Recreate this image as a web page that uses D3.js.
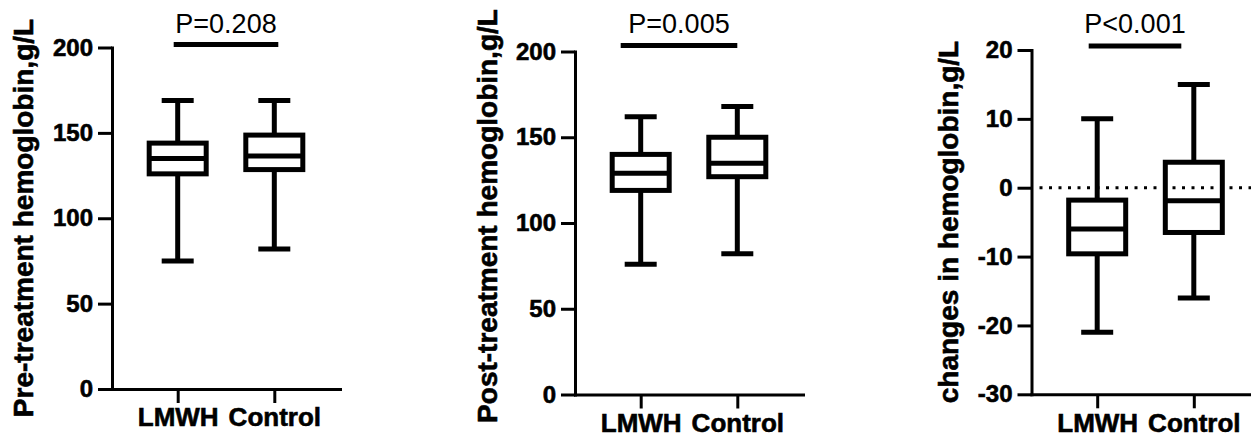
<!DOCTYPE html>
<html>
<head>
<meta charset="utf-8">
<script src="https://cdn.jsdelivr.net/npm/d3@7"></script>
<style>
  html, body { margin: 0; padding: 0; background: #fff; }
  text { font-family: "Liberation Sans", Arial, sans-serif; fill: #000; }
  .axis .domain, .axis .tick line { stroke: #000; stroke-width: 3; }
  .axis .domain { stroke-linecap: square; }
  .axis text, .ytitle { font-weight: bold; stroke: #000; stroke-width: 0.6; }
</style>
</head>
<body>
<div id="chart"></div>
<script>
// data: [min, q1, median, q3, max] per group
const groups = ["LMWH", "Control"];
const preTreatment = [[75, 126, 135, 144, 169], [82, 128.5, 136.5, 148.7, 169]];
const postTreatment = [[76, 119, 129, 140, 162], [82, 127, 134.8, 150, 168]];
const changeHb = [[-21, -9.6, -6, -1.8, 10], [-16, -6.5, -1.9, 3.7, 15]];
const yTicksHb = [0, 50, 100, 150, 200];
const yTicksChange = [-30, -20, -10, 0, 10, 20];
const pValues = ["P=0.208", "P=0.005", "P<0.001"];
const yTitles = ["Pre-treatment hemoglobin,g/L", "Post-treatment hemoglobin,g/L", "changes in hemoglobin,g/L"];

const totalWidth = 1251, totalHeight = 438;
const axisWidth = 228;

// layout of each small panel
const panels = [
  { stats: preTreatment, ticks: yTicksHb, title: yTitles[0], p: pValues[0], left: 112, top: 47.5, bottom: 389, titleX: 33, titleY: 218, sig: [-4, 4], sigY: 44.5, zeroLine: false },
  { stats: postTreatment, ticks: yTicksHb, title: yTitles[1], p: pValues[1], left: 575, top: 51.5, bottom: 394.5, titleX: 497, titleY: 216, sig: [-20, 0], sigY: 45.5, zeroLine: false },
  { stats: changeHb, ticks: yTicksChange, title: yTitles[2], p: pValues[2], left: 1031.5, top: 50, bottom: 394.3, titleX: 958, titleY: 222, sig: [-8.5, -12.5], sigY: 46, zeroLine: true }
];

const svg = d3.select("div#chart").append("svg")
  .attr("width", totalWidth).attr("height", totalHeight)

panels.forEach(pn => {
  const g = svg.append("g").attr("class", "panel")

  const x = d3.scalePoint().domain(groups).range([pn.left, pn.left + axisWidth]).padding(0.68)
  const y = d3.scaleLinear().domain(d3.extent(pn.ticks)).range([pn.bottom, pn.top])

  // zero reference line
  if (pn.zeroLine) {
    g.append("line")
      .attr("x1", pn.left + 8).attr("x2", totalWidth)
      .attr("y1", y(0)).attr("y2", y(0))
      .attr("stroke", "#000").attr("stroke-width", 3)
      .attr("stroke-dasharray", "3 6.5")
  }

  // axes
  const yAxisG = g.append("g").attr("class", "axis")
    .attr("transform", `translate(${pn.left},0)`)
    .call(d3.axisLeft(y).tickValues(pn.ticks).tickFormat(d => String(d))
      .tickSize(14).tickSizeOuter(0).tickPadding(5))
  yAxisG.attr("font-size", null).attr("font-family", null)
  yAxisG.selectAll("text").style("font-size", "24px")

  const xAxisG = g.append("g").attr("class", "axis")
    .attr("transform", `translate(0,${pn.bottom})`)
    .call(d3.axisBottom(x).tickSize(14).tickSizeOuter(0).tickPadding(5))
  xAxisG.attr("font-size", null).attr("font-family", null)
  xAxisG.selectAll("text").style("font-size", "26px")

  // y title
  g.append("text").attr("class", "ytitle")
    .attr("transform", `translate(${pn.titleX},${pn.titleY}) rotate(-90)`)
    .attr("text-anchor", "middle")
    .style("font-size", "28px")
    .text(pn.title)

  // boxes
  const boxW = 57, capW = 32
  const boxes = g.selectAll(".box").data(pn.stats.map((s, i) => ({ group: groups[i], s })))
    .enter().append("g").attr("class", "box")
  boxes.append("line")
    .attr("x1", d => x(d.group)).attr("x2", d => x(d.group))
    .attr("y1", d => y(d.s[0])).attr("y2", d => y(d.s[1]))
    .attr("stroke", "#000").attr("stroke-width", 5)
  boxes.append("line")
    .attr("x1", d => x(d.group)).attr("x2", d => x(d.group))
    .attr("y1", d => y(d.s[3])).attr("y2", d => y(d.s[4]))
    .attr("stroke", "#000").attr("stroke-width", 5)
  ;[0, 4].forEach(k => {
    boxes.append("line")
      .attr("x1", d => x(d.group) - capW / 2).attr("x2", d => x(d.group) + capW / 2)
      .attr("y1", d => y(d.s[k])).attr("y2", d => y(d.s[k]))
      .attr("stroke", "#000").attr("stroke-width", 5)
  })
  boxes.append("rect")
    .attr("x", d => x(d.group) - boxW / 2).attr("width", boxW)
    .attr("y", d => y(d.s[3])).attr("height", d => y(d.s[1]) - y(d.s[3]))
    .attr("fill", "none").attr("stroke", "#000").attr("stroke-width", 5)
  boxes.append("line")
    .attr("x1", d => x(d.group) - boxW / 2).attr("x2", d => x(d.group) + boxW / 2)
    .attr("y1", d => y(d.s[2])).attr("y2", d => y(d.s[2]))
    .attr("stroke", "#000").attr("stroke-width", 5)

  // significance bar
  const sx1 = x(groups[0]) + pn.sig[0], sx2 = x(groups[1]) + pn.sig[1]
  g.append("line")
    .attr("x1", sx1).attr("x2", sx2).attr("y1", pn.sigY).attr("y2", pn.sigY)
    .attr("stroke", "#000").attr("stroke-width", 5)
  g.append("text")
    .attr("x", (sx1 + sx2) / 2).attr("y", 33)
    .attr("text-anchor", "middle")
    .style("font-size", "27px")
    .text(pn.p)
})
</script>
</body>
</html>
